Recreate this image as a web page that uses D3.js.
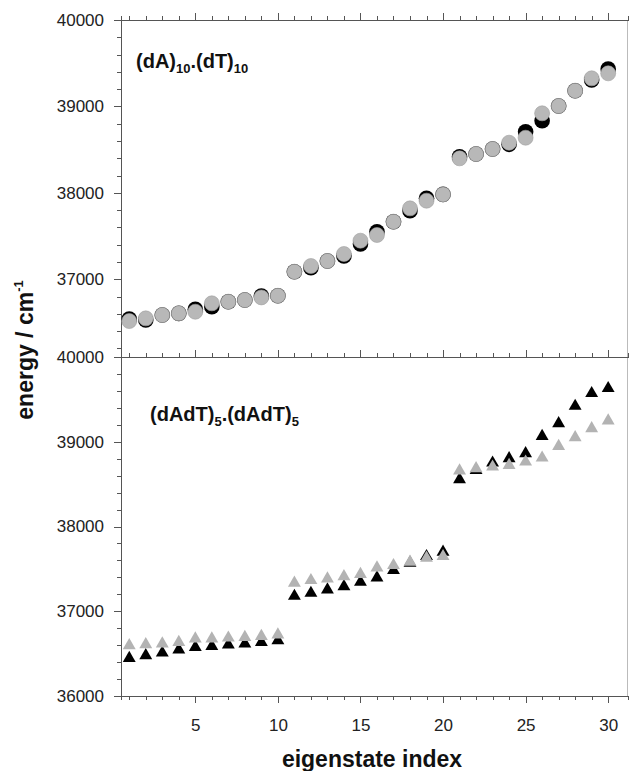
<!DOCTYPE html>
<html>
<head>
<meta charset="utf-8">
<script src="https://d3js.org/d3.v7.min.js"></script>
<style>
  body { margin: 0; background: #fff; }
  svg { display: block; font-family: "Liberation Sans", Arial, sans-serif; }
  .axis path, .axis line { stroke: #555; shape-rendering: crispEdges; }
  .axis text { fill: #222; font-size: 17px; }
</style>
</head>
<body>
<svg id="chart"></svg>
<script>
// eigenstate index
const stateIndex = [1, 2, 3, 4, 5, 6, 7, 8, 9, 10, 11, 12, 13, 14, 15,
  16, 17, 18, 19, 20, 21, 22, 23, 24, 25, 26, 27, 28, 29, 30]

// (dA)10.(dT)10 -- circles
const homoBlack = [36540, 36528, 36586, 36605, 36651, 36682, 36740, 36759, 36806, 36809,
  37087, 37134, 37211, 37269, 37407, 37550, 37666, 37793, 37936, 37982,
  38418, 38449, 38507, 38561, 38707, 38835, 39005, 39182, 39306, 39433]
const homoGray = [36516, 36547, 36586, 36605, 36624, 36721, 36740, 36759, 36790, 36809,
  37087, 37153, 37211, 37292, 37446, 37512, 37666, 37820, 37909, 37982,
  38399, 38449, 38507, 38580, 38638, 38920, 39005, 39182, 39325, 39383]

// (dAdT)5.(dAdT)5 -- triangles
const altBlack = [36446, 36478, 36509, 36545, 36576, 36588, 36604, 36616, 36635, 36655,
  37179, 37214, 37254, 37293, 37344, 37396, 37482, 37570, 37648, 37699,
  38554, 38664, 38751, 38802, 38861, 39066, 39216, 39421, 39571, 39630]
const altGray = [36596, 36608, 36616, 36635, 36675, 36675, 36686, 36694, 36706, 36722,
  37333, 37364, 37384, 37411, 37437, 37514, 37541, 37581, 37628, 37648,
  38657, 38684, 38704, 38723, 38763, 38810, 38948, 39051, 39157, 39248]

const xMajor = [5, 10, 15, 20, 25, 30]
const topYMajor = [37000, 38000, 39000, 40000]
const botYMajor = [36000, 37000, 38000, 39000, 40000]

let width = 629,
    height = 771

const svg = d3.select("#chart").attr("width", width).attr("height", height)

const left = 121, right = 628
const topY0 = 20, split = 357, botY1 = 696

let x = d3.scaleLinear().domain([0.5, 31.2]).range([left, right])
let yTop = d3.scaleLinear().domain([36100, 40000]).range([split, topY0])
let yBot = d3.scaleLinear().domain([36000, 40000]).range([botY1, split])

const minorX = d3.range(1, 31)

// right frame line
svg.append("line")
  .attr("x1", right - 0.5).attr("x2", right - 0.5)
  .attr("y1", topY0).attr("y2", botY1)
  .attr("stroke", "#bbb")

// x axes: top of upper panel, panel split, bottom
function xAxisPair(y, dir, labels) {
  let mk = dir === "top" ? d3.axisTop : d3.axisBottom
  svg.append("g").attr("class", "axis")
    .attr("transform", "translate(0," + y + ")")
    .call(mk(x).tickValues(minorX).tickSize(4).tickFormat(""))
  let g = svg.append("g").attr("class", "axis")
    .attr("transform", "translate(0," + y + ")")
    .call(mk(x).tickValues(xMajor).tickSize(7).tickPadding(16)
      .tickFormat(labels ? d3.format("d") : ""))
  g.select(".domain").attr("d", "M" + left + ",0.5H" + right)
}
xAxisPair(topY0, "top", false)
xAxisPair(split, "top", false)
xAxisPair(botY1, "bottom", true)

// y axes
function yAxisPair(scale, major, minorFrom, minorTo) {
  svg.append("g").attr("class", "axis")
    .attr("transform", "translate(" + left + ",0)")
    .call(d3.axisLeft(scale).tickValues(d3.range(minorFrom, minorTo + 1, 200)).tickSize(4).tickFormat(""))
  svg.append("g").attr("class", "axis")
    .attr("transform", "translate(" + left + ",0)")
    .call(d3.axisLeft(scale).tickValues(major).tickSize(7).tickPadding(10).tickFormat(d3.format("d")))
}
yAxisPair(yTop, topYMajor, 36200, 40000)
yAxisPair(yBot, botYMajor, 36000, 40000)

// upper panel: black circles then gray on top
svg.append("g").selectAll("circle")
  .data(stateIndex).enter().append("circle")
  .attr("cx", (d) => x(d))
  .attr("cy", (d, i) => yTop(homoBlack[i]))
  .attr("r", 7.8)
  .attr("fill", "#000")
svg.append("g").selectAll("circle")
  .data(stateIndex).enter().append("circle")
  .attr("cx", (d) => x(d))
  .attr("cy", (d, i) => yTop(homoGray[i]))
  .attr("r", 7.5)
  .attr("fill", "#b8b8b8")
  .attr("stroke", "#a0a0a0")
  .attr("stroke-width", 0.6)

// lower panel: triangles
let tri = d3.symbol().type(d3.symbolTriangle).size(72)
svg.append("g").selectAll("path")
  .data(stateIndex).enter().append("path")
  .attr("d", tri)
  .attr("transform", (d, i) => "translate(" + x(d) + "," + yBot(altBlack[i]) + ")")
  .attr("fill", "#000")
svg.append("g").selectAll("path")
  .data(stateIndex).enter().append("path")
  .attr("d", tri)
  .attr("transform", (d, i) => "translate(" + x(d) + "," + yBot(altGray[i]) + ")")
  .attr("fill", "#b3b3b3")

// panel labels
function panelLabel(px, py, parts) {
  let t = svg.append("text").attr("x", px).attr("y", py)
    .attr("font-size", 20).attr("font-weight", "bold").attr("fill", "#111")
  parts.forEach((p) => {
    t.append("tspan").text(p[0])
      .attr("font-size", p[1] ? 13 : 20)
      .attr("dy", p[1] ? 5 : (t.selectAll("tspan").size() > 1 ? -5 : 0))
  })
}
panelLabel(136, 68, [["(dA)", false], ["10", true], [".(dT)", false], ["10", true]])
panelLabel(150, 421, [["(dAdT)", false], ["5", true], [".(dAdT)", false], ["5", true]])

// axis titles
svg.append("text")
  .attr("x", 372).attr("y", 767)
  .attr("text-anchor", "middle")
  .attr("font-size", 23).attr("font-weight", "bold").attr("fill", "#111")
  .text("eigenstate index")

let yt = svg.append("text")
  .attr("transform", "translate(33,350) rotate(-90)")
  .attr("text-anchor", "middle")
  .attr("font-size", 23).attr("font-weight", "bold").attr("fill", "#111")
yt.append("tspan").text("energy / cm")
yt.append("tspan").text("-1").attr("font-size", 13).attr("dy", -10)
</script>
</body>
</html>
